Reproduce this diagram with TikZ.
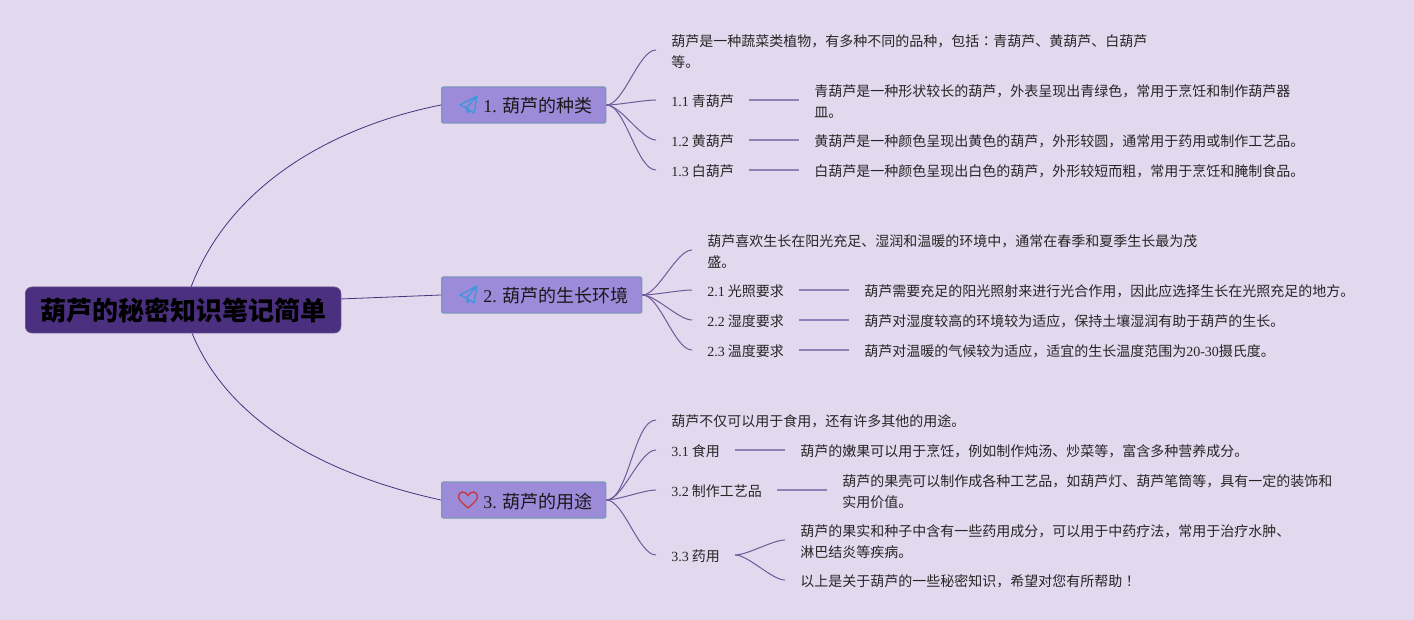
\documentclass[tikz,border=0pt]{standalone}
\usepackage{fontspec}
\setmainfont{Noto Sans CJK SC}
\newfontfamily\serfont{Liberation Serif}
\newfontfamily\markfont{Noto Sans CJK TC}
\newcommand{\ser}[1]{{\serfont #1}}
\newcommand{\toppad}{\rule{0pt}{10.7pt}}
\definecolor{bgpurple}{HTML}{E2D9EE}
\definecolor{rootpurple}{HTML}{4B3080}
\definecolor{topicpurple}{HTML}{9B8BD9}
\definecolor{topicedge}{HTML}{7C95BC}
\definecolor{stubpurple}{HTML}{9080B8}
\definecolor{planeblue}{HTML}{3F97DA}
\definecolor{heartred}{HTML}{C8383F}
\tikzset{
    rootbox/.style={fill=rootpurple,draw=rootpurple!85!white,line width=.5pt,rounded corners=5pt,
        anchor=west,minimum height=34.5pt,inner xsep=11.1pt,inner ysep=0pt,text height=16pt,text depth=0pt,
        font=\fontsize{19.5}{24}\selectfont\bfseries,text=black},
    topicbox/.style={fill=topicpurple,draw=topicedge,line width=1pt,rounded corners=1.5pt,
        anchor=west,minimum height=27pt,inner xsep=10.2pt,inner ysep=0pt,text height=12pt,text depth=0pt,
        font=\fontsize{13.5}{18}\selectfont,text=black!90},
    leaf/.style={anchor=west,align=left,inner xsep=11.25pt,inner ysep=0pt,
        font=\fontsize{10.5}{15.75}\selectfont,text=black!85,
        execute at begin node=\toppad},
    mainlink/.style={draw=rootpurple,line width=.6pt},
    branch/.style={draw=rootpurple!80,line width=.75pt,looseness=.6},
    stub/.style={draw=stubpurple,line width=1pt},
    planeicon/.pic={
        \draw[planeblue,line width=1pt,line join=round]
            (8.5,-8.5) -- (-8.5,.5) -- (-2,3.5) -- (5.5,8.5) -- cycle
            (8.5,-8.5) -- (-2,3.5) -- (-1,8) -- (1.5,5.8);
    },
    hearticon/.pic={
        \draw[heartred,line width=1pt,line join=round]
            (0,8) .. controls (-5,3.5) and (-9.5,0) .. (-9.5,-3.5)
            .. controls (-9.5,-9) and (-2.5,-9.5) .. (0,-4.5)
            .. controls (2.5,-9.5) and (9.5,-9) .. (9.5,-3.5)
            .. controls (9.5,0) and (5,3.5) .. (0,8) -- cycle;
    },
}
\begin{document}
\begin{tikzpicture}[x=.75pt,y=-.75pt]
    \fill[bgpurple] (0,0) rectangle (1414,620);

    % root and main topics
    \node[rootbox] (root) at (25,310) {葫芦的秘密知识笔记简单};
    \node[topicbox] (topica) at (441,105) {\hspace{21pt}\ser{1.} 葫芦的种类};
    \node[topicbox] (topicb) at (441,295) {\hspace{21pt}\ser{2.} 葫芦的生长环境};
    \node[topicbox] (topicc) at (441,500) {\hspace{21pt}\ser{3.} 葫芦的用途};
    \pic at (468.5,104.5) {planeicon};
    \pic at (468.5,294.5) {planeicon};
    \pic at (468,500) {hearticon};

    % first branch
    \node[leaf] (aintro) at (656,50) {\toppad 葫芦是一种蔬菜类植物，有多种不同的品种，包括{\markfont ：}青葫芦、黄葫芦、白葫芦\\等。};
    \node[leaf] (aone) at (656,100) {\ser{1.1} 青葫芦};
    \node[leaf] (atwo) at (656,140) {\ser{1.2} 黄葫芦};
    \node[leaf] (athree) at (656,170) {\ser{1.3} 白葫芦};
    \node[leaf] (aonetext) at (799,100) {\toppad 青葫芦是一种形状较长的葫芦，外表呈现出青绿色，常用于烹饪和制作葫芦器\\皿。};
    \node[leaf] (atwotext) at (799,140) {黄葫芦是一种颜色呈现出黄色的葫芦，外形较圆，通常用于药用或制作工艺品。};
    \node[leaf] (athreetext) at (799,170) {白葫芦是一种颜色呈现出白色的葫芦，外形较短而粗，常用于烹饪和腌制食品。};

    % second branch
    \node[leaf] (bintro) at (692,250) {\toppad 葫芦喜欢生长在阳光充足、湿润和温暖的环境中，通常在春季和夏季生长最为茂\\盛。};
    \node[leaf] (bone) at (692,290) {\ser{2.1} 光照要求};
    \node[leaf] (btwo) at (692,320) {\ser{2.2} 湿度要求};
    \node[leaf] (bthree) at (692,350) {\ser{2.3} 温度要求};
    \node[leaf] (bonetext) at (849,290) {葫芦需要充足的阳光照射来进行光合作用，因此应选择生长在光照充足的地方。};
    \node[leaf] (btwotext) at (849,320) {葫芦对湿度较高的环境较为适应，保持土壤湿润有助于葫芦的生长。};
    \node[leaf] (bthreetext) at (849,350) {葫芦对温暖的气候较为适应，适宜的生长温度范围为\ser{20-30}摄氏度。};

    % third branch
    \node[leaf] (cintro) at (656,420) {葫芦不仅可以用于食用，还有许多其他的用途。};
    \node[leaf] (cone) at (656,450) {\ser{3.1} 食用};
    \node[leaf] (ctwo) at (656,490) {\ser{3.2} 制作工艺品};
    \node[leaf] (cthree) at (656,555) {\ser{3.3} 药用};
    \node[leaf] (conetext) at (785,450) {葫芦的嫩果可以用于烹饪，例如制作炖汤、炒菜等，富含多种营养成分。};
    \node[leaf] (ctwotext) at (827,490) {\toppad 葫芦的果壳可以制作成各种工艺品，如葫芦灯、葫芦笔筒等，具有一定的装饰和\\实用价值。};
    \node[leaf] (cthreetext) at (785,540) {\toppad 葫芦的果实和种子中含有一些药用成分，可以用于中药疗法，常用于治疗水肿、\\淋巴结炎等疾病。};
    \node[leaf] (cfinal) at (785,580) {以上是关于葫芦的一些秘密知识，希望对您有所帮助{\markfont ！}};

    % root connectors
    \draw[mainlink] (root.71) .. controls (232,180) and (340,125) .. (topica.west);
    \draw[mainlink] (root.4.7) -- (topicb.west);
    \draw[mainlink] (root.-69) .. controls (232,430) and (340,478) .. (topicc.west);

    % curved branches
    \foreach \kid in {aintro,aone,atwo,athree}
        \draw[branch] (topica.east) to[out=0,in=180] (\kid.west);
    \foreach \kid in {bintro,bone,btwo,bthree}
        \draw[branch] (topicb.east) to[out=0,in=180] (\kid.west);
    \foreach \kid in {cintro,cone,ctwo,cthree}
        \draw[branch] (topicc.east) to[out=0,in=180] (\kid.west);
    \foreach \kid in {cthreetext,cfinal}
        \draw[branch] (cthree.east) to[out=0,in=180] (\kid.west);

    % straight stubs
    \foreach \kid in {aone,atwo,athree,bone,btwo,bthree,cone,ctwo}
        \draw[stub] (\kid.east) -- (\kid text.west);
\end{tikzpicture}
\end{document}
